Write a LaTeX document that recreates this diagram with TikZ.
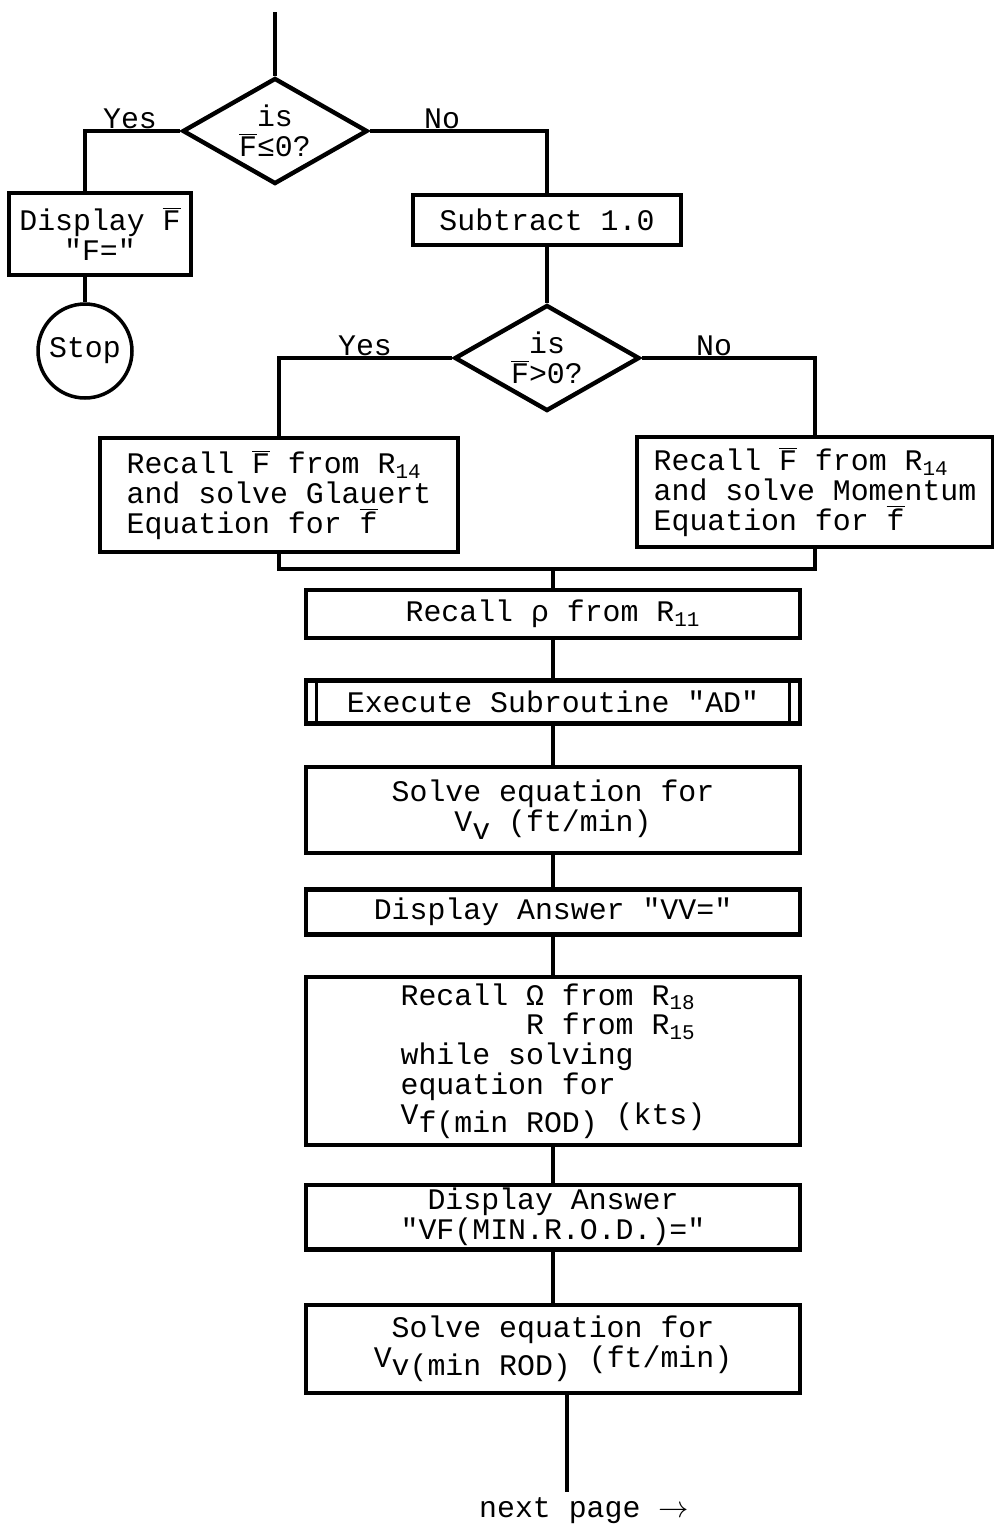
\documentclass[tikz,border=0pt]{standalone}
\usepackage{fontspec}
\setmainfont{Liberation Mono}[Ligatures=TeXOff]
\usetikzlibrary{shapes.geometric,positioning}
\newcommand{\barF}{\ensuremath{\overline{\mbox{F}}}}
\newcommand{\barf}{\ensuremath{\overline{\mbox{f}}}}
\newcommand{\low}[1]{\raisebox{-0.5ex}{#1}}

\begin{document}
\begin{tikzpicture}[x=0.02cm, y=-0.02cm,
    every node/.style={font=\fontsize{17}{17}\selectfont},
    box/.style={draw, line width=2.3pt, minimum width=9.9cm, inner sep=0pt, align=center},
    dec/.style={draw, diamond, aspect=1.75, line width=2.5pt, minimum width=3.7cm,
      minimum height=2.12cm, inner sep=0pt, align=center},
    lbl/.style={inner sep=1pt, anchor=south},
    line/.style={line width=1.8pt}]
  \useasboundingbox (0,0) rectangle (994,1526);
  % first test and left branch
  \coordinate (top) at (275,12);
  \node[dec] (d1) at (275,131) {is\\\barF≤0?};
  \node[box, minimum width=3.64cm, minimum height=1.64cm] (dispF) at (100,234)
    {Display \barF\\"F="};
  \node[draw, circle, line width=2pt, minimum size=1.88cm, inner sep=0pt] (stop) at (85,351) {Stop};
  \node[lbl] (yes1) at (130,131) {Yes};
  \node[lbl] (no1) at (442,131) {No};
  % second test
  \node[box, minimum width=5.38cm, minimum height=1cm] (sub) at (547,220) {Subtract 1.0};
  \node[dec] (d2) at (547,358) {is\\\barF>0?};
  \node[lbl] (yes2) at (365,358) {Yes};
  \node[lbl] (no2) at (714,358) {No};
  \node[box, minimum width=7.16cm, minimum height=2.28cm, align=left] (glau) at (279,495)
    {Recall \barF{} from R\textsubscript{14}\\and solve Glauert\\Equation for \barf};
  \node[box, minimum width=7.14cm, minimum height=2.2cm, align=left] (mom) at (815,492)
    {Recall \barF{} from R\textsubscript{14}\\and solve Momentum\\Equation for \barf};
  \coordinate (mrg) at (553,569);
  % main column
  \node[box, minimum height=0.96cm] (rho) at (553,614) {Recall ρ from R\textsubscript{11}};
  \node[box, minimum height=0.86cm] (exe) at (553,702) {Execute Subroutine "AD"};
  \node[box, minimum height=1.72cm] (vv) at (553,810) {Solve equation for\\V\low{v} (ft/min)};
  \node[box, minimum height=0.9cm] (ansvv) at (553,912) {Display Answer "VV="};
  \node[box, minimum height=3.36cm, align=left] (omega) at (553,1061)
    {Recall Ω from R\textsubscript{18}\\\phantom{Recall }R from R\textsubscript{15}\\while solving\\
     equation for\\V\low{f(min ROD)} (kts)};
  \node[box, minimum height=1.3cm] (ansvf) at (553,1217) {Display Answer\\"VF(MIN.R.O.D.)="};
  \node[box, minimum height=1.76cm] (vmin) at (553,1349)
    {Solve equation for\\V\low{v(min ROD)} (ft/min)};
  \coordinate (nxt) at (567,1492);
  \node (npage) at (584,1511) {next page $\to$};
  % connectors
  \draw[line] (top) -- (d1);
  \draw[line] (d1.west) -| (stop |- dispF.north);
  \draw[line] (dispF.south -| stop) -- (stop);
  \draw[line] (d1.east) -| (sub.north);
  \draw[line] (sub) -- (d2);
  \draw[line] (d2.west) -| (glau.north);
  \draw[line] (d2.east) -| (mom.north);
  \draw[line] (glau.south) |- (mrg) -| (mom.south);
  \draw[line] (mrg) -- (rho);
  \foreach \a/\b in {rho/exe, exe/vv, vv/ansvv, ansvv/omega, omega/ansvf, ansvf/vmin}
    \draw[line] (\a) -- (\b);
  \draw[line] (vmin.south -| nxt) -- (nxt);
  \draw[line width=2pt] ([xshift=0.26cm]exe.north west) -- ([xshift=0.26cm]exe.south west)
    ([xshift=-0.26cm]exe.north east) -- ([xshift=-0.26cm]exe.south east);
\end{tikzpicture}
\end{document}
